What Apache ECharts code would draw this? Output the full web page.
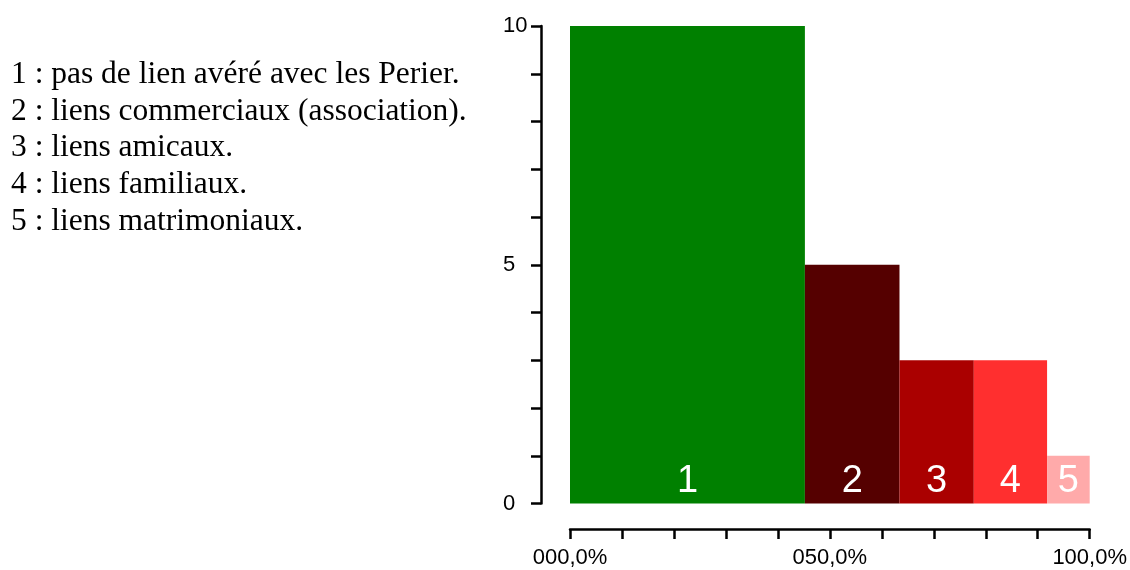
<!DOCTYPE html>
<html>
<head>
<meta charset="utf-8">
<script src="https://cdn.jsdelivr.net/npm/echarts@6/dist/echarts.min.js"></script>
<style>
  html, body { margin: 0; padding: 0; background: #fff; }
  #chart { width: 1130px; height: 570px; }
</style>
</head>
<body>
<div id="chart"></div>
<script>
// ---- data ----
const categories = ['1', '2', '3', '4', '5'];
const shares = [45.2, 18.2, 14.3, 14.1, 8.2];      // bar widths, % of x axis
const counts = [10, 5, 3, 3, 1];                  // bar heights
const barColors = ['#008000', '#550000', '#aa0000', '#ff2f2f', '#ffaaaa'];
const legendLines = [
  '1 : pas de lien avéré avec les Perier.',
  '2 : liens commerciaux (association).',
  '3 : liens amicaux.',
  '4 : liens familiaux.',
  '5 : liens matrimoniaux.'
];
const xTickLabels = { 0: '000,0%', 50: '050,0%', 100: '100,0%' };
const yTickLabels = { 0: '0', 5: '5', 10: '10' };

// ---- build ----
const seriesData = [];
let acc = 0;
for (let i = 0; i < categories.length; i++) {
  seriesData.push([acc, acc + shares[i], counts[i], i]);
  acc += shares[i];
}

const chart = echarts.init(document.getElementById('chart'), null, { renderer: 'canvas' });

const SANS = '"Liberation Sans", Arial, Helvetica, sans-serif';

const graphics = legendLines.map((t, i) => ({
  type: 'text',
  x: 11,
  y: 59 + i * 36.6,
  style: {
    text: t,
    fill: '#000',
    font: '31.5px "Liberation Serif", "Times New Roman", serif',
    textAlign: 'left',
    textVerticalAlign: 'top'
  }
}));

chart.setOption({
  animation: false,
  backgroundColor: '#fff',
  grid: { left: 570, right: 40, top: 26, bottom: 66.5, containLabel: false },
  xAxis: {
    type: 'value', min: 0, max: 100, interval: 10, offset: 25.5,
    axisLine: { show: true, onZero: false, lineStyle: { color: '#000', width: 2.5 } },
    axisTick: { show: true, length: 10, lineStyle: { color: '#000', width: 2.5 } },
    splitLine: { show: false },
    axisLabel: {
      margin: 18, color: '#000', fontSize: 22, fontFamily: SANS,
      formatter: v => (xTickLabels[v] !== undefined ? xTickLabels[v] : '')
    }
  },
  yAxis: {
    type: 'value', min: 0, max: 10, interval: 1, offset: 29,
    axisLine: { show: true, onZero: false, lineStyle: { color: '#000', width: 2.5 } },
    axisTick: { show: true, length: 10, lineStyle: { color: '#000', width: 2.5 } },
    splitLine: { show: false },
    axisLabel: {
      margin: 38, align: 'left', color: '#000', fontSize: 22, fontFamily: SANS,
      formatter: v => (yTickLabels[v] !== undefined ? yTickLabels[v] : '')
    }
  },
  graphic: graphics,
  series: [{
    type: 'custom',
    data: seriesData,
    encode: { x: [0, 1], y: 2 },
    renderItem: function (params, api) {
      const idx = api.value(3);
      const p0 = api.coord([api.value(0), api.value(2)]);
      const p1 = api.coord([api.value(1), 0]);
      return {
        type: 'rect',
        shape: { x: p0[0], y: p0[1], width: p1[0] - p0[0], height: p1[1] - p0[1] },
        style: { fill: barColors[idx] },
        textContent: {
          style: { text: categories[idx], fill: '#fff', fontSize: 38, fontFamily: SANS }
        },
        textConfig: { position: 'insideBottom', distance: 3 }
      };
    }
  }]
});
</script>
</body>
</html>
